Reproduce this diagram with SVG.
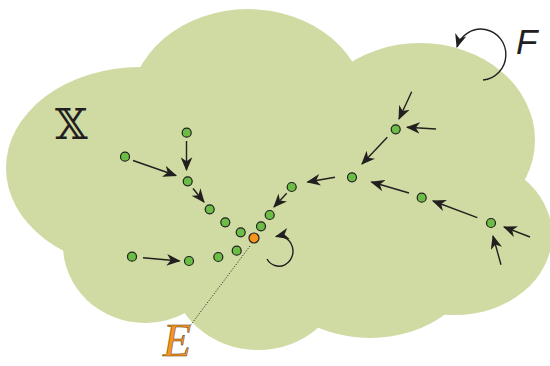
<svg xmlns="http://www.w3.org/2000/svg" width="550" height="366" viewBox="0 0 550 366">
  <style>
    .cloud { fill: #cfdba3; }
    .node { fill: #6bbd45; stroke: #231f20; stroke-width: 1.2; }
    .fixed { fill: #f7941d; stroke: #231f20; stroke-width: 1.2; }
    .edge { stroke: #231f20; stroke-width: 1.4; fill: none; marker-end: url(#arr); }
  </style>
  <defs>
    <marker id="arr" markerUnits="userSpaceOnUse" markerWidth="14" markerHeight="12" refX="11" refY="5" orient="auto" viewBox="0 0 12 10">
      <path d="M0,0 L12,5 L0,10 L3.5,5 z" fill="#231f20"/>
    </marker>
  </defs>
  <g id="cloud" class="cloud">
    <ellipse cx="140" cy="168" rx="134" ry="101"/>
    <ellipse cx="248" cy="110" rx="119" ry="101"/>
    <ellipse cx="420" cy="140" rx="115" ry="97"/>
    <ellipse cx="455" cy="235" rx="97" ry="80"/>
    <ellipse cx="370" cy="250" rx="110" ry="88"/>
    <ellipse cx="258" cy="270" rx="87" ry="80"/>
    <ellipse cx="145" cy="245" rx="82" ry="78"/>
    <ellipse cx="300" cy="190" rx="200" ry="110"/>
  </g>
  <g id="edges">
    <line class="edge" x1="186.5" y1="141" x2="186.5" y2="170"/>
    <line class="edge" x1="133" y1="160.5" x2="176" y2="175.5"/>
    <line class="edge" x1="193" y1="188.5" x2="204" y2="202"/>
    <line class="edge" x1="286.7" y1="193.3" x2="274" y2="207"/>
    <line class="edge" x1="143" y1="257.7" x2="179.5" y2="261"/>
    <line class="edge" x1="411.7" y1="91.7" x2="399" y2="119"/>
    <line class="edge" x1="436" y1="129" x2="407" y2="127.3"/>
    <line class="edge" x1="387.3" y1="137.3" x2="362" y2="164"/>
    <line class="edge" x1="335" y1="177.3" x2="307.5" y2="182"/>
    <line class="edge" x1="409" y1="193" x2="371.5" y2="182"/>
    <line class="edge" x1="477.3" y1="217.7" x2="433" y2="201"/>
    <line class="edge" x1="530" y1="237" x2="504" y2="227"/>
    <line class="edge" x1="501" y1="264.7" x2="493" y2="236"/>
    <path class="edge" d="M267,259 A14,15 0 1 0 276,236.5"/>
    <path class="edge" d="M483,80 A25,25.5 0 1 0 457,47"/>
    <line x1="250" y1="246" x2="190" y2="326" stroke="#231f20" stroke-width="0.9" stroke-dasharray="1.2,1.6"/>
  </g>
  <g id="nodes">
    <circle id="n1" class="node" cx="186.7" cy="132.7" r="4.5"/>
    <circle id="n2" class="node" cx="125" cy="156.7" r="4.5"/>
    <circle id="n3" class="node" cx="187.7" cy="181.3" r="4.5"/>
    <circle id="n4" class="node" cx="209.7" cy="209.3" r="4.5"/>
    <circle id="n5" class="node" cx="225.3" cy="222.3" r="4.5"/>
    <circle id="n6" class="node" cx="240.7" cy="232.3" r="4.5"/>
    <circle id="n7" class="node" cx="261" cy="226.3" r="4.5"/>
    <circle id="n8" class="node" cx="269.7" cy="215" r="4.5"/>
    <circle id="n9" class="node" cx="291.7" cy="187" r="4.5"/>
    <circle id="n10" class="node" cx="236.7" cy="250.7" r="4.5"/>
    <circle id="n11" class="node" cx="218.3" cy="257" r="4.5"/>
    <circle id="n12" class="node" cx="189" cy="261" r="4.5"/>
    <circle id="n13" class="node" cx="132" cy="256.7" r="4.5"/>
    <circle id="n14" class="node" cx="395.7" cy="129.3" r="4.5"/>
    <circle id="n15" class="node" cx="352" cy="177.3" r="4.5"/>
    <circle id="n16" class="node" cx="421.7" cy="197.7" r="4.5"/>
    <circle id="n17" class="node" cx="491" cy="223" r="4.5"/>
    <circle id="fixed" class="fixed" cx="254" cy="238" r="5"/>
  </g>
  <g id="labels">
    <text x="55" y="138.5" font-family="DejaVu Serif, DejaVu Sans, serif" font-size="42" fill="#231f20">𝕏</text>
    <text x="516" y="54" font-family="Liberation Sans, Arial, sans-serif" font-style="italic" font-size="35" fill="#231f20">F</text>
    <text x="163" y="356" font-family="Liberation Serif, Times New Roman, serif" font-style="italic" font-size="46" fill="#f7941d" stroke="#4a3315" stroke-width="0.5">E</text>
  </g>
</svg>
